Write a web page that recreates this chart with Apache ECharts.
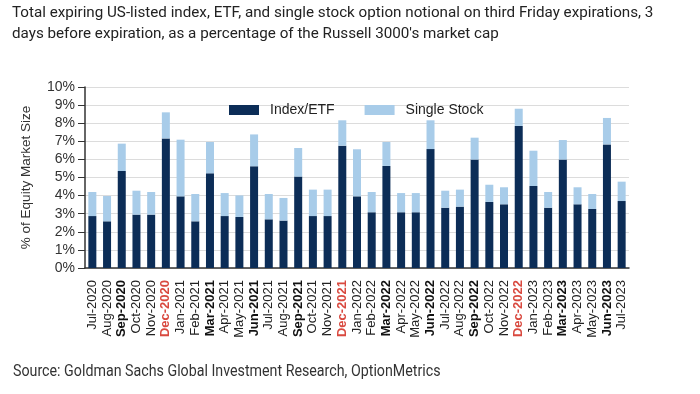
<!DOCTYPE html>
<html><head><meta charset="utf-8">
<script src="https://cdn.jsdelivr.net/npm/echarts@6/dist/echarts.min.js"></script>
<style>html,body{margin:0;padding:0;background:#fff}#c{width:700px;height:394px}</style>
</head><body><div id="c"></div>
<script>
const categories = ["Jul-2020","Aug-2020","Sep-2020","Oct-2020","Nov-2020","Dec-2020","Jan-2021","Feb-2021","Mar-2021","Apr-2021","May-2021","Jun-2021","Jul-2021","Aug-2021","Sep-2021","Oct-2021","Nov-2021","Dec-2021","Jan-2022","Feb-2022","Mar-2022","Apr-2022","May-2022","Jun-2022","Jul-2022","Aug-2022","Sep-2022","Oct-2022","Nov-2022","Dec-2022","Jan-2023","Feb-2023","Mar-2023","Apr-2023","May-2023","Jun-2023","Jul-2023"];
const indexEtf = [2.87,2.58,5.36,2.95,2.95,7.16,3.96,2.58,5.23,2.87,2.82,5.62,2.69,2.62,5.05,2.87,2.87,6.76,3.96,3.08,5.64,3.08,3.08,6.57,3.33,3.39,5.99,3.65,3.52,7.85,4.53,3.33,5.99,3.52,3.26,6.83,3.70];
const singleStock = [1.33,1.40,1.51,1.32,1.25,1.44,3.13,1.51,1.73,1.27,1.19,1.76,1.40,1.25,1.58,1.46,1.46,1.40,2.60,1.12,1.32,1.06,1.06,1.59,0.94,0.94,1.21,0.95,0.94,0.95,1.95,0.87,1.08,0.94,0.83,1.46,1.07];
const yTicks = [0,1,2,3,4,5,6,7,8,9,10];
const titleText = "Total expiring US-listed index, ETF, and single stock option notional on third Friday expirations, 3\ndays before expiration, as a percentage of the Russell 3000's market cap";
const sourceText = "Source: Goldman Sachs Global Investment Research, OptionMetrics";

const chart = echarts.init(document.getElementById('c'), null, {renderer:'canvas'});
const axisFont = 'Arial, "Liberation Sans", sans-serif';
chart.setOption({
  animation: false,
  backgroundColor: '#fff',
  title: [{
    text: titleText, left: 12, top: 3, padding: 0,
    textStyle: {fontFamily: 'Roboto, "Noto Sans", sans-serif', fontSize: 15.2, fontWeight: 'normal', color: '#222', lineHeight: 21}
  }],
  graphic: [{
    type: 'text', x: 13, y: 364, scaleX: 0.89,
    style: {text: sourceText, font: '16px Roboto, sans-serif', fill: '#333'}
  }],
  legend: {
    left: 224, top: 98, itemWidth: 30, itemHeight: 10, itemGap: 30,
    icon: 'rect',
    textStyle: {fontFamily: axisFont, fontSize: 14, color: '#222', padding: [0,0,0,6]},
    data: ['Index/ETF','Single Stock']
  },
  grid: {left: 85, right: 71, top: 87, bottom: 126, containLabel: false},
  xAxis: {
    type: 'category', data: categories,
    axisLine: {lineStyle: {color: '#333', width: 1.5}},
    axisTick: {alignWithLabel: true, length: 5, lineStyle: {color: '#333'}},
    axisLabel: {
      interval: 0, rotate: 90, margin: 12, fontSize: 13, fontFamily: axisFont, color: '#222',
      formatter: function (v) {
        if (v.indexOf('Dec') === 0) return '{r|' + v + '}';
        if (/^(Sep|Mar|Jun)/.test(v)) return '{b|' + v + '}';
        return v;
      },
      rich: {
        r: {color: '#d9493f', fontWeight: 'bold', fontSize: 13, fontFamily: axisFont},
        b: {color: '#111', fontWeight: 'bold', fontSize: 13, fontFamily: axisFont}
      }
    }
  },
  yAxis: {
    type: 'value', min: yTicks[0], max: yTicks[yTicks.length-1], interval: 1,
    name: '% of Equity Market Size', nameLocation: 'middle', nameGap: 52, nameRotate: 90,
    nameTextStyle: {fontFamily: axisFont, fontSize: 13.5, color: '#333'},
    axisLine: {show: true, lineStyle: {color: '#333', width: 1.5}},
    axisTick: {show: true, length: 7, lineStyle: {color: '#333'}},
    axisLabel: {formatter: '{value}%', fontFamily: axisFont, fontSize: 14, color: '#333', margin: 10},
    splitLine: {lineStyle: {color: '#dcdcdc'}}
  },
  series: [
    {name: 'Index/ETF', type: 'bar', stack: 'tot', data: indexEtf, barWidth: 8, itemStyle: {color: '#0c2d57'}},
    {name: 'Single Stock', type: 'bar', stack: 'tot', data: singleStock, barWidth: 8, itemStyle: {color: '#a8cce9'}}
  ]
});
</script></body></html>
